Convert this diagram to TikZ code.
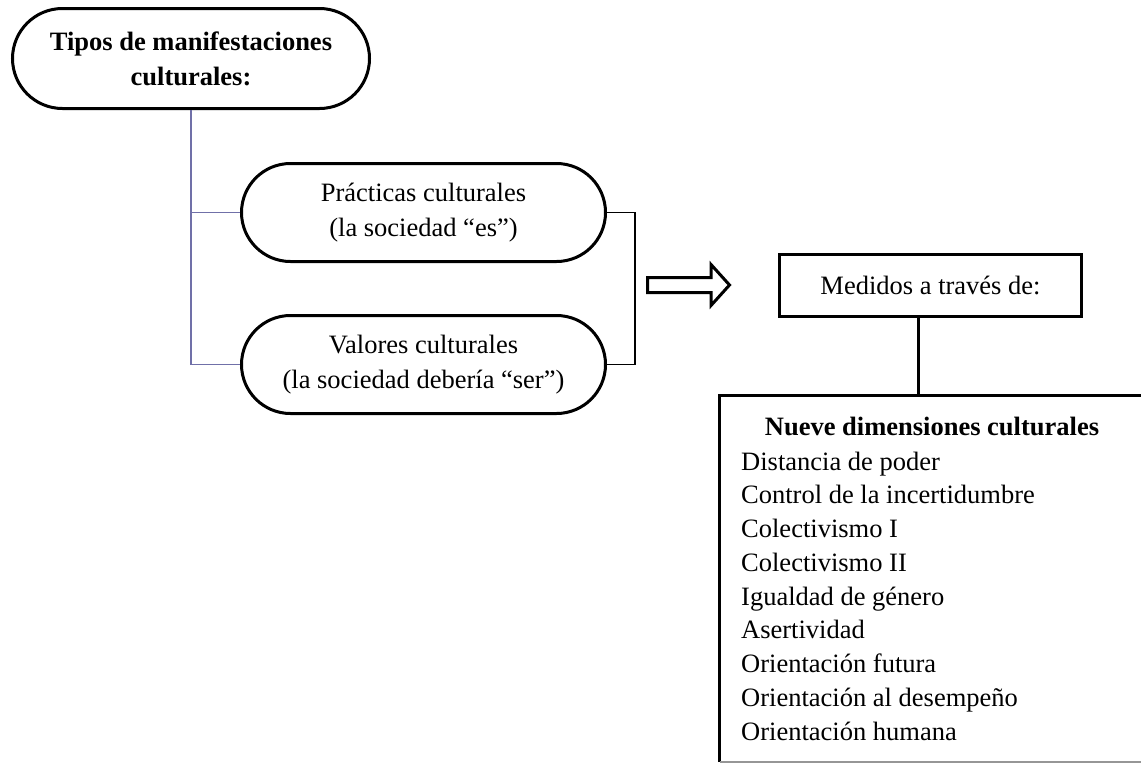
\documentclass[tikz,border=0pt]{standalone}
\usepackage{fontspec}
\setmainfont{Liberation Serif}
\definecolor{linkblue}{RGB}{112,112,168}
\definecolor{rulegray}{RGB}{150,150,150}
\tikzset{
  txt/.style={font=\fontsize{26.5}{34.5}\selectfont},
  pill/.style={txt, draw, line width=3pt, rounded corners=49pt, align=center,
    inner sep=0pt, minimum width=#1, minimum height=98pt},
  frame/.style={txt, draw, line width=3pt, align=center, inner sep=0pt},
  branch/.style={draw=linkblue, line width=1.5pt},
  bracket/.style={draw, line width=1.5pt},
  heavy/.style={draw, line width=3pt},
  item/.style={txt, anchor=base west, inner sep=0pt},
}
\begin{document}
\begin{tikzpicture}[x=1pt, y=-1pt]
\useasboundingbox (0,0) rectangle (1141,763);
\clip (0,0) rectangle (1141,763);

% main category
\node[pill=357pt, minimum height=100pt, rounded corners=50pt, font=\fontsize{26.5}{35}\selectfont\bfseries]
  (tipos) at (191,58.5) {Tipos de manifestaciones\\culturales:};

% the two kinds
\node[pill=364pt] (prac) at (423.5,212.5) {Prácticas culturales\\(la sociedad “es”)};
\node[pill=364pt] (val)  at (423.5,364.5) {Valores culturales\\(la sociedad debería “ser”)};

\draw[branch] (tipos.south) |- (prac.west);
\draw[branch] (tipos.south) |- (val.west);

% bracket joining both kinds
\draw[bracket] (prac.east) -- ++(28,0) coordinate (bk) |- (val.east);

% hollow block arrow
\draw[heavy, line join=miter]
  (647.5,277.5) -- (711,277.5) -- (711,264.5) -- (729.5,285) -- (711,305.5)
  -- (711,292.5) -- (647.5,292.5) -- cycle;

% measurement box
\node[frame, minimum width=302pt, minimum height=62pt] (med) at (930.5,285.5) {Medidos a través de:};

% list of dimensions
\node[minimum width=460pt, minimum height=366pt, inner sep=0pt] (dims) at (950,579) {};
\draw[heavy] (dims.south west) -- (dims.north west) -- (dims.north east);
\draw[draw=rulegray, line width=1.5pt] (dims.south west) -- (dims.south east);

\draw[heavy] ([xshift=-12.5pt]med.south) -- ([xshift=-12.5pt]med.south |- dims.north);

\node[txt, anchor=base, inner sep=0pt] (head) at (932,435) {\bfseries Nueve dimensiones culturales};
\node[item] (d1) at (741,470)    {Distancia de poder};
\node[item] (d2) at (741,503.75) {Control de la incertidumbre};
\node[item] (d3) at (741,537.5)  {Colectivismo I};
\node[item] (d4) at (741,571.25) {Colectivismo II};
\node[item] (d5) at (741,605)    {Igualdad de género};
\node[item] (d6) at (741,638.75) {Asertividad};
\node[item] (d7) at (741,672.5)  {Orientación futura};
\node[item] (d8) at (741,706.25) {Orientación al desempeño};
\node[item] (d9) at (741,740)    {Orientación humana};
\end{tikzpicture}
\end{document}
